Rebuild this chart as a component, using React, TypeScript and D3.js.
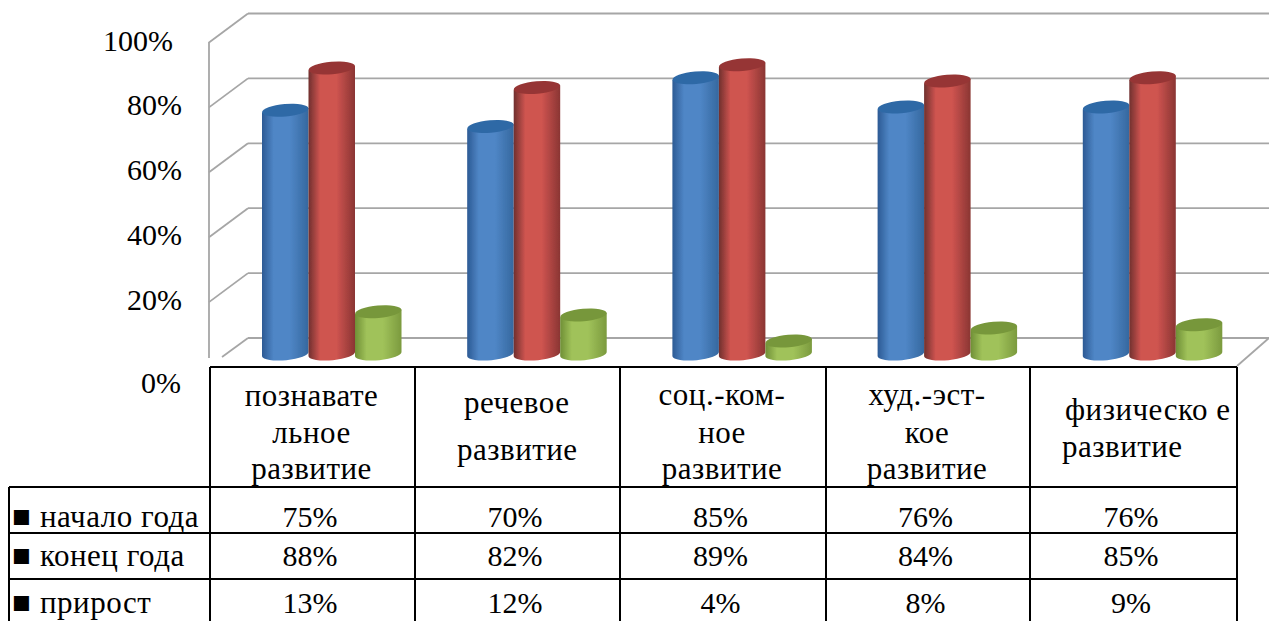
import React from "react";
import * as d3 from "d3";

const categories = [
  ["познавате", "льное", "развитие"],
  ["речевое", "развитие"],
  ["соц.-ком-", "ное", "развитие"],
  ["худ.-эст-", "кое", "развитие"],
  ["физическо е", "развитие"],
];
const categoryKeys = ["a", "b", "c", "d", "e"];
const seriesNames = ["начало года", "конец года", "прирост"];
const startYear = [75, 70, 85, 76, 76];
const endYear = [88, 82, 89, 84, 85];
const growth = [13, 12, 4, 8, 9];
const seriesValues = [startYear, endYear, growth];
const yTicks = [0, 20, 40, 60, 80, 100];
const palettes = [
  { edge: "#2c5a94", mid: "#4f86c6", dark: "#35689f", cap: "#2f69a6" },
  { edge: "#70302e", mid: "#cf5450", dark: "#8a3533", cap: "#963634" },
  { edge: "#6f8f36", mid: "#a0c25a", dark: "#7b9a3e", cap: "#77973a" },
];
const font = "'Liberation Serif', 'Times New Roman', serif";

const W = 1269, H = 621;
const depthX = 39, depthY = 29;
const xGroup = d3.scaleBand<string>().domain(categoryKeys).range([232, 1258]).paddingInner(0).paddingOuter(0);
const yBack = d3.scaleLinear().domain([0, 100]).range([338, 13.5]);
const yBar = d3.scaleLinear().domain([0, 100]).range([354, 29]);
const barW = 46.5;
const rx = barW / 2, ry = 6.2, tilt = 2.2;

const tableX = [9, 210, 415, 620, 826, 1030, 1237];
const tableY = [367, 487, 533, 579, 621];
const headerBaselines3 = [[406, 443, 479], [], [405, 443, 479], [405, 443, 479]];
const headerBaselines2: Record<string, number[]> = { b: [413, 460], e: [420, 457] };
const headerLeft: Record<string, number[]> = { b: [464, 457], e: [1065, 1062] };
const rowBaselines = [527, 566, 613];
const yLabelBaselines = [393, 310, 245, 180, 115, 51];
const yLabelRight = [181, 182, 182, 182, 182, 173];
const valueOffset = -2.5, headerOffset = -1;

export default function App() {
  const cyl = (i: number, s: number, v: number) => {
    const group = xGroup(categoryKeys[i])!;
    const x0 = group + 30 + s * barW;
    const x1 = x0 + barW;
    const yT = yBar(v), yB = yBar(0);
    const p = palettes[s];
    const body = `M${x0},${yT + tilt} L${x0},${yB + tilt} A${rx},${ry} -5 0 0 ${x1},${yB - tilt} L${x1},${yT - tilt} Z`;
    return (
      <g key={`${i}-${s}`} filter="url(#soft)">
        <path d={body} fill={`url(#g${s})`} />
        <ellipse cx={(x0 + x1) / 2} cy={yT} rx={rx} ry={ry} fill={p.cap} transform={`rotate(-5 ${(x0 + x1) / 2} ${yT})`} />
      </g>
    );
  };

  return (
    <svg width={W} height={H} viewBox={`0 0 ${W} ${H}`} style={{ position: "fixed", left: 0, top: 0, background: "#fff" }}>
      <defs>
        {palettes.map((p, s) => (
          <linearGradient key={s} id={`g${s}`} x1="0" x2="1" y1="0" y2="0">
            <stop offset="0" stopColor={p.edge} />
            <stop offset="0.25" stopColor={p.mid} />
            <stop offset="0.6" stopColor={p.mid} />
            <stop offset="1" stopColor={p.dark} />
          </linearGradient>
        ))}
        <filter id="soft" x="-10%" y="-10%" width="120%" height="120%">
          <feGaussianBlur stdDeviation="0.6" />
        </filter>
      </defs>

      <g stroke="#a6a6a6" strokeWidth={1.8} fill="none">
        <line x1={209} x2={209} y1={42} y2={358} />
        {yTicks.map((t) => {
          const y = yBack(t);
          const isZero = t === 0;
          return (
            <g key={t}>
              <line x1={248} x2={W} y1={y} y2={y} />
              <line x1={isZero ? 222 : 209} y1={isZero ? y + 19 : y + depthY} x2={248} y2={y} />
            </g>
          );
        })}
        <line x1={1237} y1={366} x2={W} y2={338} />
      </g>

      {categoryKeys.map((_, i) => seriesValues.map((vals, s) => cyl(i, s, vals[i])))}

      <g fontFamily={font} fontSize={30} fill="#000" textAnchor="end">
        {yTicks.map((t, k) => (
          <text key={t} x={yLabelRight[k]} y={yLabelBaselines[k]}>{`${t}%`}</text>
        ))}
      </g>

      <g stroke="#000" strokeWidth={2} fill="none">
        <line x1={tableX[1]} x2={tableX[6]} y1={tableY[0]} y2={tableY[0]} />
        {tableY.slice(1, 4).map((y) => (
          <line key={y} x1={tableX[0]} x2={tableX[6]} y1={y} y2={y} />
        ))}
        <line x1={tableX[0]} x2={tableX[0]} y1={tableY[1]} y2={H} />
        {tableX.slice(1).map((x) => (
          <line key={x} x1={x} x2={x} y1={tableY[0]} y2={H} />
        ))}
      </g>

      <g fontFamily={font} fontSize={31} fill="#000" letterSpacing={0.5}>
        {categories.map((lines, i) => {
          const key = categoryKeys[i];
          const cx = (tableX[i + 1] + tableX[i + 2]) / 2 + headerOffset;
          const base = lines.length === 3 ? headerBaselines3[i] : headerBaselines2[key];
          const left = headerLeft[key];
          return lines.map((l, j) => (
            <text key={l + i} x={left ? left[j] : cx} y={base[j]} textAnchor={left ? "start" : "middle"}>{l}</text>
          ));
        })}
      </g>
      <g fontFamily={font} fontSize={30} fill="#000" textAnchor="middle">
        {seriesValues.map((vals, s) =>
          vals.map((v, i) => (
            <text key={`${s}-${i}`} x={(tableX[i + 1] + tableX[i + 2]) / 2 + valueOffset} y={rowBaselines[s]}>{`${v}%`}</text>
          ))
        )}
      </g>
      <g fontFamily={font} fontSize={31} fill="#000">
        {seriesNames.map((n, s) => (
          <g key={n}>
            <text x={12} y={rowBaselines[s]}>■</text>
            <text x={40} y={rowBaselines[s]} letterSpacing={0.5}>{n}</text>
          </g>
        ))}
      </g>
    </svg>
  );
}
